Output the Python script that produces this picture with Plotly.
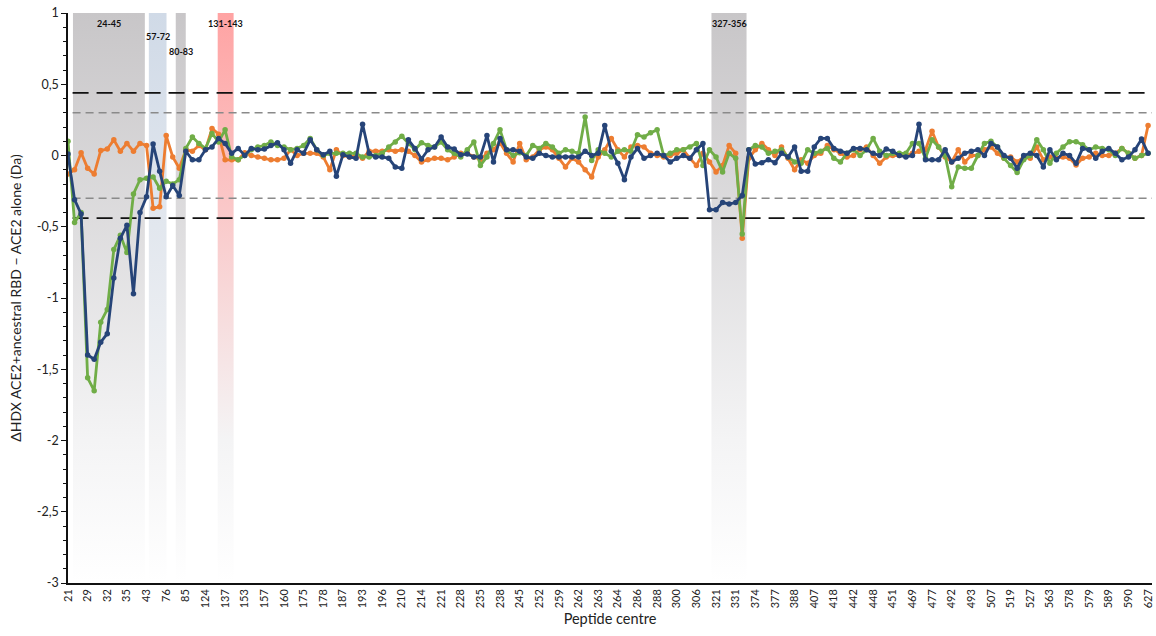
import plotly.graph_objects as go

# ---------------- data ----------------
tick_labels = ["21","29","32","35","43","76","85","124","137","153","157","160","175","178","187",
               "193","196","210","214","221","228","235","238","245","252","259","262","263","264",
               "286","288","300","306","321","331","374","377","388","407","418","442","448","451",
               "469","477","492","493","507","519","527","563","578","579","589","590","627"]

orange = [-0.13,-0.10,0.02,-0.09,-0.13,0.035,0.045,0.11,0.03,0.085,
          0.03,0.085,0.07,-0.37,-0.36,0.14,-0.01,-0.09,0.04,0.03,
          0.07,0.04,0.19,0.15,-0.03,-0.03,-0.03,0.02,0.0,-0.01,
          -0.02,-0.03,-0.03,-0.02,0.04,0.0,0.015,0.015,0.015,-0.01,
          -0.10,0.04,0.0,-0.01,0.0,-0.02,0.03,0.03,0.03,0.04,
          0.03,0.04,0.03,0.0,-0.045,-0.03,-0.02,-0.02,-0.03,-0.01,
          0.015,0.015,-0.01,-0.03,0.015,0.04,0.09,0.015,-0.045,0.085,
          -0.03,-0.01,0.04,0.06,0.04,-0.02,-0.08,-0.02,-0.045,-0.10,
          -0.15,-0.01,0.04,0.12,0.04,-0.01,0.06,0.07,0.06,0.015,
          0.0,-0.01,0.0,0.015,0.04,-0.02,-0.07,0.015,-0.045,-0.115,
          -0.07,0.07,0.015,-0.58,-0.02,0.04,0.085,0.04,0.0,0.06,
          -0.02,-0.10,-0.03,-0.055,0.0,0.015,0.07,0.04,0.015,-0.01,
          0.0,0.04,0.06,0.0,-0.055,-0.01,0.0,0.0,0.0,0.015,
          0.03,0.04,0.17,0.06,-0.01,-0.045,0.04,-0.045,0.0,0.0,
          0.04,0.06,0.015,-0.02,-0.01,-0.045,-0.01,-0.02,0.06,-0.03,
          -0.01,-0.02,-0.01,-0.02,-0.067,-0.02,-0.01,0.015,0.0,0.0,
          0.015,0.05,0.015,-0.02,0.0,0.21]

green = [0.10,-0.47,-0.40,-1.56,-1.65,-1.17,-1.08,-0.66,-0.56,-0.68,
         -0.27,-0.17,-0.16,-0.15,-0.23,-0.18,-0.20,-0.17,0.05,0.13,
         0.085,0.05,0.155,0.095,0.18,-0.01,-0.03,0.0,0.04,0.06,
         0.07,0.095,0.07,0.06,0.04,0.05,0.07,0.12,0.04,0.0,
         0.015,0.015,0.015,0.015,0.015,-0.01,-0.01,0.0,0.015,0.06,
         0.095,0.135,0.085,0.04,0.09,0.07,0.06,0.095,0.04,0.015,
         -0.01,0.04,0.095,-0.07,-0.01,0.085,0.18,0.04,0.0,0.02,
         0.0,0.07,0.05,0.085,0.06,0.015,0.04,0.03,0.015,0.27,
         -0.035,0.04,0.015,-0.01,0.03,0.04,0.03,0.145,0.13,0.16,
         0.18,0.0,0.015,0.04,0.04,0.06,0.085,-0.07,0.04,-0.01,
         -0.115,0.015,-0.02,-0.55,0.04,0.07,0.06,0.015,0.03,0.04,
         -0.01,-0.045,-0.055,0.04,0.015,0.03,0.05,-0.02,-0.045,0.015,
         0.04,0.0,0.04,0.12,0.03,0.0,0.015,0.015,0.015,0.085,
         0.085,-0.02,0.11,0.06,0.0,-0.22,-0.08,-0.09,-0.09,0.0,
         0.085,0.10,0.06,-0.02,-0.07,-0.12,-0.03,0.0,0.11,0.04,
         -0.055,0.015,0.06,0.097,0.097,0.075,0.04,0.06,0.05,0.04,
         0.0,0.05,0.015,-0.02,0.0,0.015]

blue = [0.01,-0.31,-0.41,-1.40,-1.43,-1.31,-1.25,-0.86,-0.58,-0.49,
        -0.97,-0.40,-0.29,0.08,-0.11,-0.29,-0.21,-0.28,0.03,-0.03,
        -0.03,0.04,0.06,0.12,0.085,0.015,0.05,0.0,0.05,0.04,
        0.045,0.07,0.09,0.04,-0.055,0.04,0.015,0.11,0.04,0.005,
        0.03,-0.145,0.005,-0.01,-0.02,0.22,0.015,-0.01,-0.01,-0.02,
        -0.08,-0.09,0.11,0.05,-0.025,0.04,0.06,0.13,0.06,0.045,
        0.005,0.01,-0.01,-0.01,0.14,-0.045,0.12,0.04,0.04,0.03,
        -0.01,-0.02,0.015,0.0,-0.01,-0.01,-0.01,-0.01,-0.01,0.03,
        0.0,0.015,0.21,0.03,-0.055,-0.17,-0.01,0.05,-0.02,0.0,
        0.015,0.0,-0.045,-0.02,0.0,-0.02,0.04,0.085,-0.38,-0.38,
        -0.33,-0.34,-0.33,-0.28,0.04,-0.06,-0.05,-0.03,-0.05,0.015,
        -0.01,0.06,-0.11,-0.11,0.06,0.12,0.12,0.05,0.03,0.015,
        0.05,0.05,0.04,0.015,0.0,0.045,0.03,0.0,-0.01,0.0,
        0.22,-0.03,-0.03,-0.03,0.04,-0.045,-0.02,0.015,0.03,0.04,
        0.0,0.085,0.06,0.0,-0.02,-0.09,0.0,0.015,0.0,-0.08,
        0.04,-0.03,0.015,0.0,-0.055,0.05,0.04,-0.02,0.03,0.05,
        0.015,-0.03,-0.01,0.04,0.115,0.015]

# highlighted peptide regions (in category-index units along the axis)
region_labels = ["24-45", "57-72", "80-83", "131-143", "327-356"]
region_start = [0.76, 12.35, 16.46, 22.87, 98.3]
region_end = [11.74, 15.05, 17.99, 25.3, 103.66]
region_colors = ["#c8c6c8", "#d0dae7", "#c8c6c8", "#ffa3a3", "#c8c6c8"]

significance_outer = 0.44
significance_inner = 0.30

# ---------------- figure ----------------
FONT = "Lato, Open Sans, sans-serif"
n = len(blue)
xs = list(range(n))
x_end = 165.6
fig = go.Figure()

label_y = [0.925, 0.835, 0.73, 0.925, 0.925]
for lab, a, b, col, ly in zip(region_labels, region_start, region_end, region_colors, label_y):
    fig.add_trace(go.Scatter(
        x=[a, b, b, a, a], y=[-3, -3, 1, 1, -3], mode="lines", fill="toself",
        line=dict(width=0, color="rgba(0,0,0,0)"),
        fillgradient=dict(type="vertical", colorscale=[[0, "#ffffff"], [0.25, "#f4f4f5"], [1, col]]),
        hoverinfo="skip", showlegend=False))
    fig.add_annotation(x=(a + b) / 2, y=ly, text="<b>%s</b>" % lab, showarrow=False,
                       font=dict(family=FONT, size=9, color="#111"))

# significance threshold lines (above shaded regions, below data)
for v, col, dash, w in [(significance_outer, "#111111", "16px,8px", 1.7),
                        (significance_inner, "#8a8a8a", "8px,5px", 1.3)]:
    for s in (1, -1):
        fig.add_trace(go.Scatter(x=[0.7, x_end], y=[s * v, s * v], mode="lines",
                                 line=dict(color=col, width=w, dash=dash),
                                 hoverinfo="skip", showlegend=False))

series = [("Series 1", orange, "#ED7D31"), ("Series 2", green, "#70AD47"), ("Series 3", blue, "#264478")]
for name, vals, col in series:
    fig.add_trace(go.Scatter(x=xs, y=vals, name=name, mode="lines+markers",
                             line=dict(color=col, width=2.8),
                             marker=dict(color=col, size=5.5), showlegend=False))

ytv = [1, 0.5, 0, -0.5, -1, -1.5, -2, -2.5, -3]
ytt = [("%g" % t).replace(".", ",") for t in ytv]

fig.update_layout(
    width=1156, height=636,
    margin=dict(l=68, r=2, t=13, b=53),
    paper_bgcolor="white", plot_bgcolor="white",
    font=dict(family=FONT, color="#222", size=12),
    showlegend=False,
    xaxis=dict(range=[0, x_end], tickmode="array", tickvals=[3 * k for k in range(len(tick_labels))],
               ticktext=tick_labels, tickangle=-90, tickfont=dict(size=11),
               showline=True, linecolor="#111", linewidth=1.5, showgrid=False, zeroline=False,
               ticks="", title=dict(text="Peptide centre", font=dict(size=14.5), standoff=7)),
    yaxis=dict(range=[-3, 1], tickmode="array", tickvals=ytv, ticktext=ytt,
               showline=True, linecolor="#111", linewidth=1.5, showgrid=False, zeroline=False,
               ticks="outside", ticklen=5, tickcolor="#111", tickfont=dict(size=12.5),
               minor=dict(tickmode="linear", dtick=0.1, ticks="outside", ticklen=3, tickcolor="#111"),
               title=dict(text="ΔHDX ACE2+ancestral RBD − ACE2 alone (Da)", font=dict(size=14), standoff=12)),
)

fig.write_html("out.html")
